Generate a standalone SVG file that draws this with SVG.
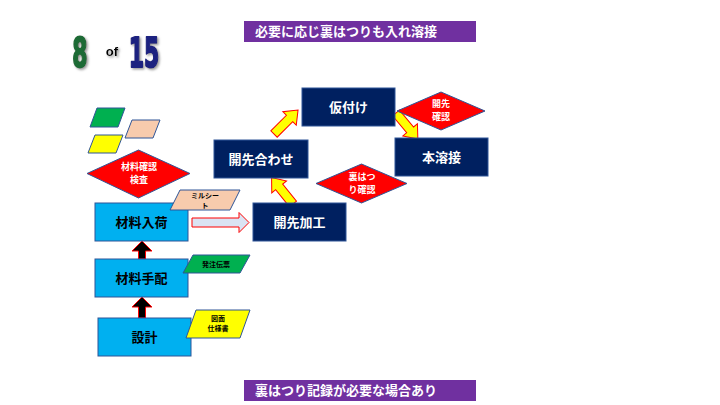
<svg xmlns="http://www.w3.org/2000/svg" width="720" height="405" viewBox="0 0 720 405">
<style>
.lb{fill:#00B0F0;stroke:#2F5597;stroke-width:1}
.nv{fill:#002060;stroke:#2F5597;stroke-width:1}
.dm{fill:#FF0000;stroke:#2F5597;stroke-width:1}
.pg{stroke:#2F5597;stroke-width:1}
.t{font-family:"Noto Sans CJK JP","Noto Sans CJK SC",sans-serif;font-weight:bold;text-anchor:middle}
.tb{font-size:13px;fill:#000}
.tw{font-size:13px;fill:#fff}
.td{font-size:9px;fill:#fff}
.ts{font-size:7px;fill:#000}
.ban{fill:#7030A0}
.bt{font-size:13px;fill:#fff}
.ya{fill:#FFFF00;stroke:#FF0000;stroke-width:1}
.ba{fill:#000;stroke:#FF0000;stroke-width:1}
.big{font-family:"DejaVu Sans",sans-serif;font-weight:bold;font-size:40px;text-anchor:middle;stroke-width:2;stroke-linejoin:round}
</style>
<defs>
<path id="yarr" d="M0,-4.5 L22,-4.5 L22,-9.5 L34,0 L22,9.5 L22,4.5 L0,4.5 Z"/>
<filter id="sh" x="-30%" y="-30%" width="160%" height="160%">
<feDropShadow dx="1.5" dy="1.5" stdDeviation="0.8" flood-color="#9a9a9a"/>
</filter>
</defs>
<rect width="720" height="405" fill="#fff"/>

<g id="counter" filter="url(#sh)">
<text class="big" x="80" y="67" fill="#1E6B35" stroke="#1E6B35" transform="translate(80,0) scale(0.55,1) translate(-80,0)">8</text>
<text x="112" y="56" font-family="Liberation Sans" font-weight="bold" font-size="13" fill="#000" text-anchor="middle">of</text>
<text class="big" x="144" y="67" fill="#1F2480" stroke="#1F2480" transform="translate(144,0) scale(0.55,1) translate(-144,0)">15</text>
</g>

<g id="banner-top">
<rect class="ban" x="244" y="21" width="232" height="21"/>
<text class="t bt" x="346" y="36">必要に応じ裏はつりも入れ溶接</text>
</g>
<g id="banner-bottom">
<rect class="ban" x="244" y="380" width="232" height="21"/>
<text class="t bt" x="346" y="395">裏はつり記録が必要な場合あり</text>
</g>

<g id="legend">
<polygon class="pg" fill="#00B050" points="97,108 125,108 118,127 90,127"/>
<polygon class="pg" fill="#F8CBAD" points="132,120 160,120 153,138 125,138"/>
<polygon class="pg" fill="#FFFF00" points="95,135 123,135 116,153 88,153"/>
</g>

<g id="connectors">
<path class="ba" d="M138.5,318 L138.5,307 L132,307 L142,297 L152,307 L145.5,307 L145.5,318 Z"/>
<path class="ba" d="M138.5,259 L138.5,251 L132,251 L142,241 L152,251 L145.5,251 L145.5,259 Z"/>
<path d="M192,218 L239,218 L239,212.5 L249,222.5 L239,232.5 L239,227 L192,227 Z" fill="#DAE3F3" stroke="#FF0000" stroke-width="1"/>
<use href="#yarr" class="ya" transform="translate(293,204) rotate(-129)"/>
<use href="#yarr" class="ya" transform="translate(274,134) rotate(-45)"/>
<use href="#yarr" class="ya" transform="translate(396,113) rotate(50)"/>
</g>

<g id="n-sekkei">
<rect class="lb" x="98" y="318" width="93" height="38"/>
<text class="t tb" x="144.5" y="342">設計</text>
</g>
<g id="n-zumen">
<polygon class="pg" fill="#FFFF00" points="196,310 250,310 240,338 186,338"/>
<text class="t ts" x="218" y="321">図面</text>
<text class="t ts" x="218" y="331">仕様書</text>
</g>
<g id="n-tehai">
<rect class="lb" x="95" y="259" width="93" height="38"/>
<text class="t tb" x="141.5" y="283">材料手配</text>
</g>
<g id="n-denpyo">
<polygon class="pg" fill="#00B050" points="193,255 250,255 240,273 183,273"/>
<text class="t ts" x="216" y="267">発注伝票</text>
</g>
<g id="n-nyuka">
<rect class="lb" x="95" y="203" width="93" height="38"/>
<text class="t tb" x="141.5" y="227">材料入荷</text>
</g>
<g id="n-mill">
<polygon class="pg" fill="#F8CBAD" points="180,190 240,190 230,210 170,210"/>
<text class="t ts" x="205" y="198">ミルシー</text>
<text class="t ts" x="205" y="207.5">ト</text>
</g>
<g id="n-kakunin">
<polygon class="dm" points="87,173.5 138.5,150 190,173.5 138.5,198"/>
<text class="t td" x="139" y="170">材料確認</text>
<text class="t td" x="139" y="183">検査</text>
</g>
<g id="n-kakou">
<rect class="nv" x="253" y="203" width="93" height="38"/>
<text class="t tw" x="299.5" y="227">開先加工</text>
</g>
<g id="n-awase">
<rect class="nv" x="214" y="140" width="94" height="38"/>
<text class="t tw" x="261" y="164">開先合わせ</text>
</g>
<g id="n-karitsuke">
<rect class="nv" x="302" y="88" width="93" height="38"/>
<text class="t tw" x="348.5" y="112">仮付け</text>
</g>
<g id="n-honyousetsu">
<rect class="nv" x="395" y="138" width="93" height="38"/>
<text class="t tw" x="441.5" y="162">本溶接</text>
</g>
<g id="n-urahatsuri">
<polygon class="dm" points="316,183.5 361.5,164 407,183.5 361.5,203"/>
<text class="t td" x="362" y="180">裏はつ</text>
<text class="t td" x="362" y="193">り確認</text>
</g>
<g id="n-kaisaki">
<polygon class="dm" points="397,111 441,92 485,111 441,130"/>
<text class="t td" x="441" y="107">開先</text>
<text class="t td" x="441" y="120">確認</text>
</g>
</svg>
